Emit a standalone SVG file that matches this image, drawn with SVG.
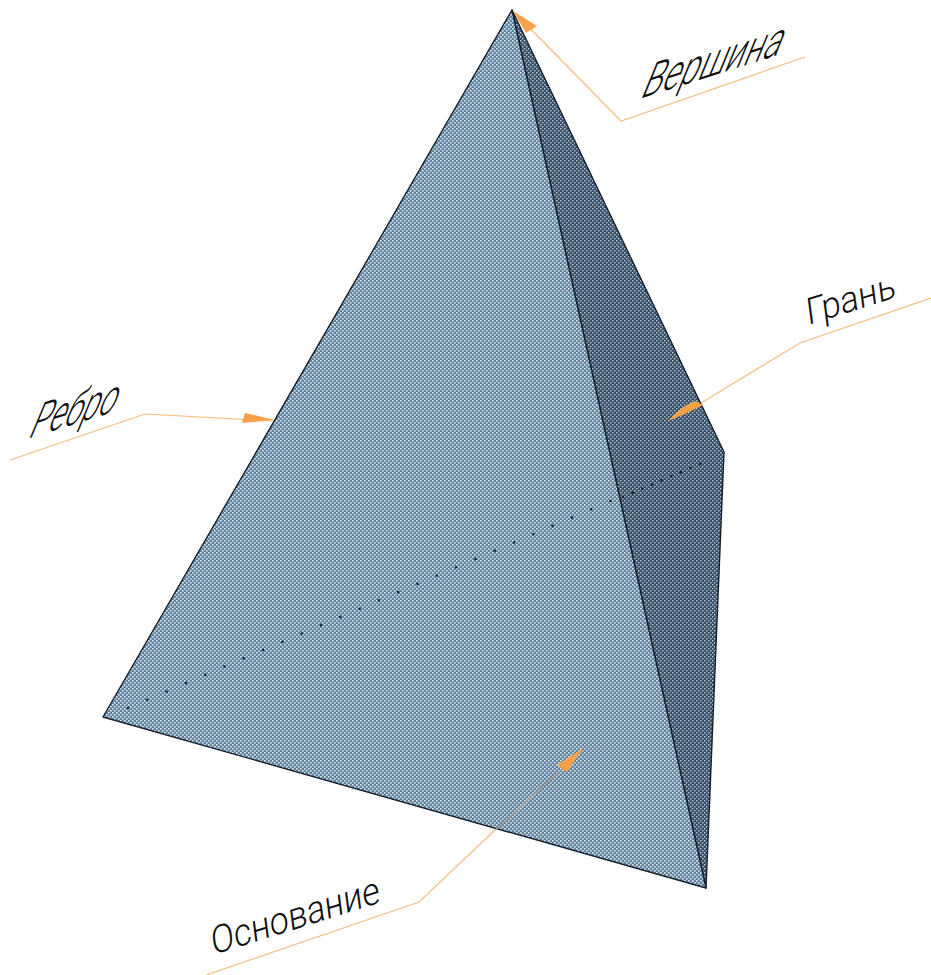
<svg xmlns="http://www.w3.org/2000/svg" width="931" height="975" viewBox="0 0 931 975">
<style>
.edge{stroke:#16202c;stroke-width:1.4;stroke-linejoin:round;stroke-linecap:round}
.leader{fill:none;stroke:#f6bd80;stroke-width:1.2}
.head{fill:#f7a24a}
.hidden{stroke:#16202c;stroke-width:2.6;stroke-linecap:round;fill:none}
.label{font-family:Roboto,"Liberation Sans",Arial,sans-serif;font-weight:300;fill:#111}
</style>
<defs>
<pattern id="dotsA" width="4" height="4" patternUnits="userSpaceOnUse">
<rect width="4" height="4" fill="#60839f"/>
<rect x="0" y="0" width="1.6" height="1.6" fill="#dde7f0"/>
<rect x="2" y="2" width="1.6" height="1.6" fill="#dde7f0"/>
</pattern>
<pattern id="dotsB" width="4" height="4" patternUnits="userSpaceOnUse">
<rect width="4" height="4" fill="#3a5269"/>
<rect x="0" y="0" width="1.4" height="1.4" fill="#bccad6"/>
<rect x="2" y="2" width="1.4" height="1.4" fill="#bccad6"/>
</pattern>
</defs>
<rect width="931" height="975" fill="#fff"/>
<g id="face-right"><polygon class="edge" points="512,10 724,452 706,888" fill="url(#dotsB)"/></g>
<g id="face-front"><polygon class="edge" points="512,10 706,888 103,717" fill="url(#dotsA)"/></g>
<g id="hidden-edge">
<line class="hidden" x1="128" y1="708" x2="620" y2="497" stroke-dasharray="0 21"/>
<line class="hidden" x1="623" y1="497" x2="702" y2="463" stroke-dasharray="0 10.5"/>
</g>
<g id="connectors">
<polyline class="leader" points="805,57 621,121 515,13"/>
<polygon class="head" points="513,11 537,26 526,33"/>
<polyline class="leader" points="931,298 800,343 701,403"/>
<path class="head" d="M668,421 Q680,407 695,401 L703,405 Q686,414 668,421Z"/>
<polyline class="leader" points="10,460 145,414 273,421"/>
<polygon class="head" points="275,420 245,413 242,423"/>
<polyline class="leader" points="206,975 419,902 495,830"/>
<polyline points="495,830 583,750" fill="none" stroke="#a79f93" stroke-width="1.4"/>
<polygon class="head" points="583,748 557,765 567,772"/>
</g>
<g id="label-vershina"><text class="label" transform="translate(639,99) rotate(-17.6) skewX(-40)" font-size="42" textLength="146" lengthAdjust="spacingAndGlyphs">Вершина</text></g>
<g id="label-gran"><text class="label" transform="translate(808,325) rotate(-17.4) skewX(-10)" font-size="36" textLength="93" lengthAdjust="spacingAndGlyphs">Грань</text></g>
<g id="label-rebro"><text class="label" transform="translate(27,439) rotate(-17.5) skewX(-40)" font-size="42" textLength="90" lengthAdjust="spacingAndGlyphs">Ребро</text></g>
<g id="label-osnovanie"><text class="label" transform="translate(213,955) rotate(-17.4) skewX(-10)" font-size="38" textLength="176" lengthAdjust="spacingAndGlyphs">Основание</text></g>
</svg>
